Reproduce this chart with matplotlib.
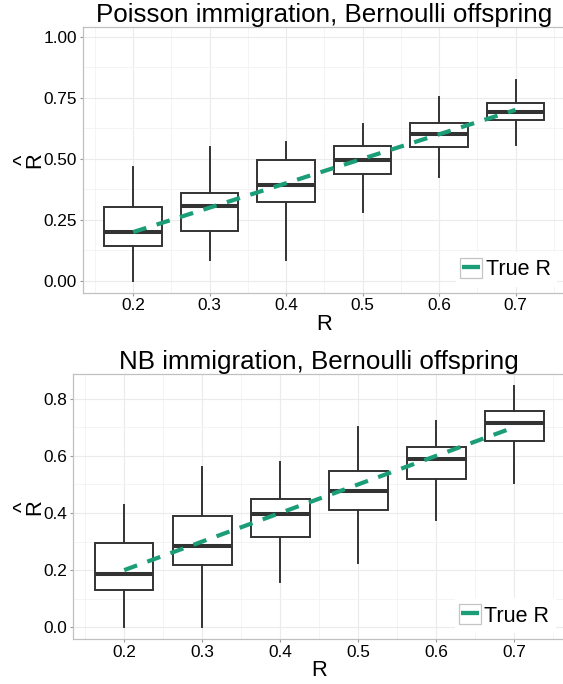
import numpy as np
import matplotlib
matplotlib.use("Agg")
import matplotlib.pyplot as plt
from matplotlib.patches import Rectangle
from matplotlib.lines import Line2D
from matplotlib.legend_handler import HandlerLine2D

plt.rcParams['font.family'] = ['Liberation Sans', 'DejaVu Sans']

# true R values (x positions)
R = [0.2, 0.3, 0.4, 0.5, 0.6, 0.7]

# Poisson immigration, Bernoulli offspring
pois_lo = [0.000, 0.086, 0.086, 0.284, 0.427, 0.558]
pois_q1 = [0.141, 0.203, 0.322, 0.439, 0.548, 0.659]
pois_med = [0.202, 0.307, 0.392, 0.495, 0.600, 0.690]
pois_q3 = [0.302, 0.359, 0.495, 0.551, 0.648, 0.729]
pois_hi = [0.468, 0.550, 0.570, 0.643, 0.752, 0.823]

# NB immigration, Bernoulli offspring
nb_lo = [0.000, 0.000, 0.160, 0.226, 0.376, 0.506]
nb_q1 = [0.129, 0.217, 0.316, 0.411, 0.518, 0.650]
nb_med = [0.187, 0.285, 0.395, 0.477, 0.588, 0.714]
nb_q3 = [0.294, 0.390, 0.450, 0.546, 0.630, 0.755]
nb_hi = [0.426, 0.561, 0.577, 0.700, 0.721, 0.844]

GREEN = '#1B9E77'
DARK = '#333333'


class BoxedKey(HandlerLine2D):
    # ggplot style key: grey square behind the line
    def create_artists(self, legend, orig_handle, xdescent, ydescent,
                       width, height, fontsize, trans):
        arts = super().create_artists(legend, orig_handle, xdescent, ydescent,
                                      width, height, fontsize, trans)
        pad = 1.4
        sq = Rectangle((-xdescent - pad, -ydescent), width + 2 * pad, height,
                       facecolor='white', edgecolor='#c4c4c4', lw=0.9,
                       transform=trans)
        return [sq] + list(arts)


def panel(ax, title, lo, q1, med, q3, hi, yticks, ylabels, yminor, ylim, legx, left_px):
    stats = []
    for i in range(len(R)):
        stats.append(dict(whislo=lo[i], q1=q1[i], med=med[i], q3=q3[i],
                          whishi=hi[i], fliers=[]))
    ax.bxp(stats, positions=R, widths=0.075, patch_artist=True,
           showcaps=False, showfliers=False, manage_ticks=False,
           boxprops=dict(facecolor='white', edgecolor=DARK, lw=1.4),
           whiskerprops=dict(color=DARK, lw=1.4),
           medianprops=dict(color=DARK, lw=2.9, solid_capstyle='butt'))
    ax.plot(R, R, color=GREEN, lw=3.0, dashes=(3.3, 2.6), zorder=5)

    ax.set_xlim(0.134, 0.766)
    ax.set_ylim(*ylim)
    ax.set_xticks(R)
    ax.set_xticklabels([str(r) for r in R])
    ax.set_xticks([0.15, 0.25, 0.35, 0.45, 0.55, 0.65, 0.75], minor=True)
    ax.set_yticks(yticks)
    ax.set_yticklabels(ylabels)
    ax.set_yticks(yminor, minor=True)
    ax.grid(True, which='major', color='#EBEBEB', lw=0.8, zorder=0)
    ax.grid(True, which='minor', color='#F3F3F3', lw=0.6, zorder=0)
    ax.set_axisbelow(True)
    ax.tick_params(which='major', length=2.5, width=0.8, color='#9a9a9a',
                   labelsize=12.4, labelcolor='black', pad=1.6)
    ax.tick_params(which='minor', length=0)
    for s in ax.spines.values():
        s.set_color('#c0c0c0')
        s.set_linewidth(0.9)
    ax.spines['right'].set_visible(False)

    ax.set_title(title, fontsize=18.7, pad=4.0)
    ax.set_xlabel('R', fontsize=15.8, labelpad=0.2)

    # y label: R-hat, caret stacked over R (ends up left of it once rotated)
    wpx = ax.get_position().width * 563
    ax.set_ylabel('^\nR', fontsize=15.8, linespacing=0.4,
                  multialignment='center')
    ax.yaxis.set_label_coords((45 - left_px) / wpx, 0.5)

    key = Line2D([], [], color=GREEN, lw=3.1, solid_capstyle='butt')
    leg = ax.legend([key], ['True R'], loc='lower left',
                    bbox_to_anchor=(legx, 0.022), borderaxespad=0,
                    fontsize=15.5, handlelength=0.84, handleheight=1.05,
                    handletextpad=0.24, borderpad=0.3, frameon=True,
                    fancybox=False, framealpha=1,
                    handler_map={Line2D: BoxedKey()})
    leg.get_frame().set_facecolor('white')
    leg.get_frame().set_edgecolor('none')


fig = plt.figure(figsize=(5.63, 6.84), dpi=100)
ax1 = fig.add_axes([0.1469, 0.5721, 0.8584, 0.3880])
ax2 = fig.add_axes([0.1291, 0.0658, 0.8762, 0.3870])

panel(ax1, 'Poisson immigration, Bernoulli offspring',
      pois_lo, pois_q1, pois_med, pois_q3, pois_hi,
      [0, 0.25, 0.5, 0.75, 1.0], ['0.00', '0.25', '0.50', '0.75', '1.00'],
      [0.125, 0.375, 0.625, 0.875], (-0.048, 1.038), 0.772, 82.7)
panel(ax2, 'NB immigration, Bernoulli offspring',
      nb_lo, nb_q1, nb_med, nb_q3, nb_hi,
      [0, 0.2, 0.4, 0.6, 0.8], ['0.0', '0.2', '0.4', '0.6', '0.8'],
      [0.1, 0.3, 0.5, 0.7], (-0.041, 0.885), 0.7745, 72.7)

fig.savefig('out.png', dpi=100)
